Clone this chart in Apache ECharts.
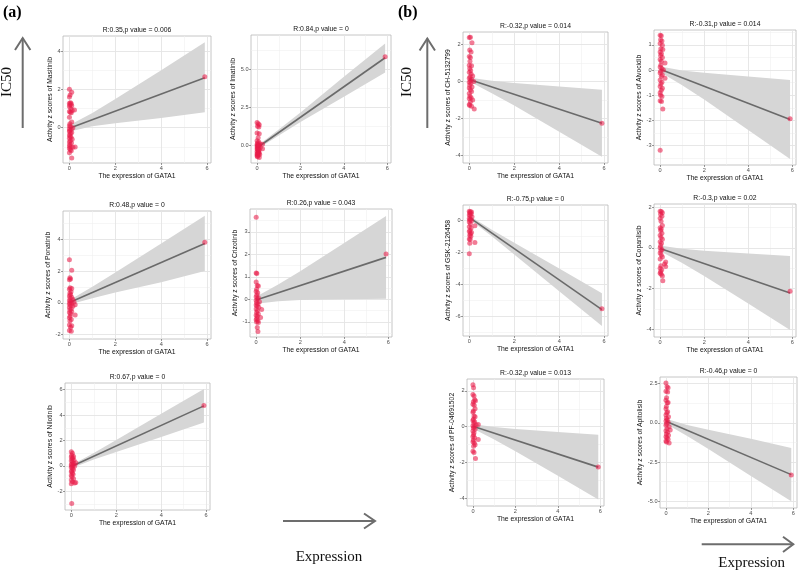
<!DOCTYPE html>
<html>
<head>
<meta charset="utf-8">
<script src="https://cdn.jsdelivr.net/npm/echarts@6/dist/echarts.min.js"></script>
<style>
html, body { margin: 0; padding: 0; background: #fff; }
#main { width: 800px; height: 574px; }
</style>
</head>
<body>
<div id="main"></div>
<script>
// shared x scale (GATA1 expression)
const xRange = [-0.28, 6.17];
const xTicks = [0, 2, 4, 6];
const lineX = [0, 5.9];
const bandX = [0, 0.2, 1, 2, 4, 5.9];

const drugs = ['Masitinib', 'Imatinib', 'Ponatinib', 'Crizotinib', 'Nilotinib',
  'CH-5132799', 'Alvocidib', 'GSK-2126458', 'Copanlisib', 'PF-04691502', 'Apitolisib'];
const stats = ['R:0.35,p value = 0.006', 'R:0.84,p value = 0', 'R:0.48,p value = 0',
  'R:0.26,p value = 0.043', 'R:0.67,p value = 0', 'R:-0.32,p value = 0.014',
  'R:-0.31,p value = 0.014', 'R:-0.75,p value = 0', 'R:-0.3,p value = 0.02',
  'R:-0.32,p value = 0.013', 'R:-0.46,p value = 0'];

const masitinibX = [0,0.1,0.03,0,0.05,0,0.08,0.02,0.1,0, 0.06,0.22,0.12,0,0.04,0.08,0,0.1,0.02,0, 0.05,0.15,0,0.08,0.02,0,0.1,0.05,0,0.03, 0.07,0,0.12,0.04,0,0.09,0.02,0,0.06,0.25, 0.15,0,0.04,0.08,0,0.1,5.9];
const masitinibY = [2.0,1.85,1.7,1.6,1.3,1.28,1.25,1.2,1.15,1.1, 1.0,0.92,0.9,0.85,0.8,0.78,0.55,0.3,0.2,0.1, 0.05,0,-0.05,-0.1,-0.15,-0.2,-0.25,-0.3,-0.38,-0.45, -0.5,-0.55,-0.6,-0.68,-0.75,-0.8,-0.88,-0.95,-1.0,-1.0, -1.02,-1.08,-1.15,-1.2,-1.3,-1.58,2.65];
const masitinibLine = [-0.03, 2.6];
const masitinibHi = [0.2, 0.26, 0.77, 1.5, 3.0, 4.45];
const masitinibLo = [-0.26, -0.14, 0.07, 0.23, 0.5, 0.8];

const imatinibX = [0,0.05,0.1,0.02,0.08,0,0.1,0.05,0,0.08, 0.02,0.12,0,0.05,0.1,0.25,0.03,0,0.07,0.15, 0.02,0.25,0,0.1,0.05,0,0.08,0.03,0,0.12, 0.05,0,0.1,0.02,0.04,0.06,0.01,0.09,0.03,5.9];
const imatinibY = [1.5,1.42,1.35,1.25,1.2,0.8,0.75,0.5,0.3,0.22, 0.15,0.1,0.05,0.02,-0.02,0.07,-0.05,-0.1,-0.12,-0.15, -0.2,-0.22,-0.25,-0.3,-0.35,-0.4,-0.45,-0.5,-0.55,-0.6, -0.65,-0.7,-0.8,-0.75,-0.28,-0.42,-0.62,-0.52,0.0,5.8];
const imatinibLine = [-0.16, 5.74];
const imatinibHi = [-0.03, 0.16, 1.03, 2.15, 4.5, 6.68];
const imatinibLo = [-0.29, -0.08, 0.65, 1.53, 3.18, 4.78];

const ponatinibX = [0,0.1,0.02,0.05,0,0.03,0.1,0,0.07,0.02, 0.05,0,0.1,0.03,0.15,0,0.06,0.2,0.02,0.1, 0,0.25,0.05,0.15,0,0.08,0.02,0.1,0,0.05, 0.25,0.03,0,0.08,0.02,0,0.1,0.05,0,0.08, 5.9];
const ponatinibY = [2.72,2.05,1.58,1.5,1.45,0.95,0.9,0.85,0.7,0.6, 0.5,0.42,0.35,0.28,0.2,0.15,0.1,0.05,0,-0.05, -0.1,-0.12,-0.18,-0.22,-0.3,-0.38,-0.45,-0.55,-0.62,-0.7, -0.78,-0.85,-0.95,-1.05,-1.15,-1.4,-1.45,-1.55,-1.75,-1.8, 3.82];
const ponatinibLine = [0.02, 3.75];
const ponatinibHi = [0.22, 0.33, 1.01, 1.91, 3.75, 5.5];
const ponatinibLo = [-0.18, -0.03, 0.29, 0.65, 1.29, 2.0];

const crizotinibX = [0,0,0.03,0,0.05,0.1,0.02,0,0.07,0.03, 0,0.1,0.05,0,0.15,0.02,0.08,0,0.04,0.12, 0.25,0,0.06,0.02,0.1,0,0.05,0.2,0.03,0, 0.08,0.02,0.1,0.05,0.08,5.9];
const crizotinibY = [3.65,1.18,1.15,0.78,0.62,0.6,0.45,0.35,0.3,0.2, 0.12,0.08,0.02,-0.05,-0.1,-0.15,-0.2,-0.25,-0.3,-0.35, -0.45,-0.42,-0.5,-0.58,-0.65,-0.7,-0.75,-0.8,-0.85,-0.9, -0.95,-1.0,-1.02,-1.25,-1.42,2.02];
const crizotinibLine = [-0.03, 1.87];
const crizotinibHi = [0.17, 0.23, 0.66, 1.25, 2.51, 3.71];
const crizotinibLo = [-0.23, -0.17, -0.08, -0.03, 0.01, 0.03];

const nilotinibX = [0,0.05,0.02,0.1,0,0.07,0.03,0.12,0,0.05, 0.2,0.1,0.02,0,0.08,0.15,0.03,0,0.06,0.1, 0.02,0,0.05,0.08,0,0.03,0.1,0,0.05,0.2, 0.15,0,0.02,5.9];
const nilotinibY = [1.12,1.0,0.85,0.75,0.7,0.62,0.55,0.45,0.4,0.32, 0.25,0.2,0.15,0.08,0.05,0,-0.05,-0.12,-0.2,-0.3, -0.38,-0.45,-0.55,-0.65,-0.75,-0.85,-1.0,-1.1,-1.25,-1.3, -1.35,-1.4,-2.95,4.75];
const nilotinibLine = [-0.05, 4.73];
const nilotinibHi = [0.1, 0.26, 1.02, 2.04, 4.1, 6.05];
const nilotinibLo = [-0.2, -0.04, 0.5, 1.1, 2.28, 3.42];

const chX = [0,0.05,0.12,0.02,0.08,0,0.05,0.03,0,0.1, 0.02,0.06,0,0.08,0.15,0.03,0,0.1,0.05,0.2, 0,0.07,0.02,0.12,0,0.05,0.1,0,0.03,0.08, 0,0.15,0.05,0,0.1,0.02,0.22,5.9];
const chY = [2.38,2.4,2.1,1.7,1.6,1.35,1.3,1.1,0.88,0.85, 0.7,0.6,0.5,0.4,0.3,0.25,0.18,0.12,0.05,0, -0.05,-0.1,-0.2,-0.3,-0.35,-0.45,-0.55,-0.65,-0.8,-0.88, -0.92,-1.0,-1.1,-1.25,-1.35,-1.3,-1.5,-2.27];
const chLine = [0.1, -2.26];
const chHi = [0.25, 0.17, 0.04, -0.09, -0.27, -0.45];
const chLo = [-0.05, -0.13, -0.64, -1.31, -2.73, -4.08];

const alvocidibX = [0,0.05,0.02,0.08,0,0.1,0.03,0.12,0,0.06, 0.02,0.1,0,0.05,0.22,0.03,0,0.08,0.15,0.02, 0,0.1,0.05,0.22,0,0.08,0.03,0,0.1,0.05, 0,0.02,0.08,0,0.06,0.12,0,5.9];
const alvocidibY = [1.38,1.36,1.2,1.15,1.05,0.98,0.85,0.82,0.72,0.65, 0.58,0.5,0.42,0.35,0.28,0.2,0.12,0.05,0,-0.05, -0.12,-0.2,-0.25,-0.33,-0.4,-0.48,-0.55,-0.65,-0.72,-0.8, -0.9,-1.0,-1.05,-1.22,-1.25,-1.55,-3.18,-1.93];
const alvocidibLine = [0.03, -1.96];
const alvocidibHi = [0.18, 0.11, -0.02, -0.11, -0.26, -0.4];
const alvocidibLo = [-0.12, -0.19, -0.6, -1.17, -2.38, -3.53];

const gskX = [0,0.05,0.1,0.02,0.08,0,0.04,0.12,0,0.06, 0.02,0.1,0,0.25,0.05,0,0.08,0.03,0,0.1, 0.05,0.02,0.07,0,0.04,0.25,0.02,0,5.9];
const gskY = [0.55,0.52,0.5,0.45,0.4,0.32,0.28,0.2,0.1,0.05, 0,-0.05,-0.12,-0.35,-0.25,-0.42,-0.5,-0.65,-0.72,-0.78, -0.85,-0.95,-1.02,-1.18,-1.22,-1.4,-1.45,-2.1,-5.55];
const gskLine = [0.17, -5.6];
const gskHi = [0.29, 0.09, -0.61, -1.42, -3.03, -4.57];
const gskLo = [0.05, -0.15, -1.01, -2.16, -4.45, -6.63];

const copanlisibX = [0,0.05,0.1,0.02,0.08,0,0.04,0.1,0,0.05, 0.02,0.08,0,0.04,0.1,0,0.06,0.02,0,0.08, 0.03,0,0.05,0.1,0,0.25,0.2,0.03,0.25,0, 0.07,0.02,0,0.05,0.1,0.12,5.9];
const copanlisibY = [1.8,1.78,1.72,1.65,1.55,1.45,1.3,1.1,0.98,0.92, 0.85,0.72,0.62,0.5,0.42,0.3,0.22,0.1,0,-0.08, -0.15,-0.25,-0.35,-0.45,-0.55,-0.7,-0.8,-0.88,-0.92,-1.0, -1.08,-1.18,-1.25,-1.3,-1.38,-1.62,-2.13];
const copanlisibLine = [-0.03, -2.22];
const copanlisibHi = [0.15, 0.08, -0.05, -0.15, -0.28, -0.4];
const copanlisibLo = [-0.21, -0.28, -0.75, -1.39, -2.74, -4.04];

const pfX = [0,0.03,0,0.05,0.08,0.12,0.02,0,0.06,0.1, 0.02,0,0.05,0.1,0.02,0,0.08,0.04,0.25,0.15, 0,0.06,0.02,0.1,0,0.05,0.03,0,0.08,0.25, 0.02,0,0.06,0.1,0.03,0,0.05,0.12,5.9];
const pfY = [2.35,2.18,1.8,1.72,1.5,1.45,1.4,1.25,1.2,1.0, 0.88,0.8,0.6,0.55,0.42,0.35,0.28,0.2,0.12,0.1, 0.05,0,-0.08,-0.15,-0.25,-0.35,-0.45,-0.55,-0.62,-0.72, -0.75,-0.85,-0.92,-1.02,-1.1,-1.38,-1.45,-1.78,-2.27];
const pfLine = [0.02, -2.27];
const pfHi = [0.19, 0.11, -0.02, -0.14, -0.3, -0.45];
const pfLo = [-0.15, -0.23, -0.72, -1.38, -2.76, -4.09];

const apitolisibX = [0,0.05,0.1,0,0.08,0.03,0,0.1,0.06,0.02, 0,0.08,0.04,0,0.12,0.02,0.06,0,0.1,0.03, 0,0.15,0.05,0.2,0,0.08,0.02,0.12,0,0.05, 0.1,0,0.03,0.15,5.9];
const apitolisibY = [2.55,2.3,2.25,2.02,1.98,1.6,1.45,1.3,1.28,1.05, 0.9,0.72,0.65,0.5,0.4,0.3,0.2,0.12,0.05,-0.05, -0.15,-0.25,-0.35,-0.45,-0.5,-0.6,-0.7,-0.78,-0.88,-0.95, -1.05,-1.15,-1.22,-1.28,-3.33];
const apitolisibLine = [0.1, -3.3];
const apitolisibHi = [0.3, 0.18, -0.13, -0.44, -1.01, -1.6];
const apitolisibLo = [-0.1, -0.22, -0.83, -1.66, -3.39, -5.0];

// y tick labels per panel
const yTicks = [[0,2,4], [0,2.5,5], [-2,0,2,4], [-1,0,1,2,3], [-2,0,2,4,6],
  [-4,-2,0,2], [-3,-2,-1,0,1], [-6,-4,-2,0], [-4,-2,0,2], [-4,-2,0,2], [-5,-2.5,0,2.5]];
const yDecimals = [0, 1, 0, 0, 0, 0, 0, 0, 0, 0, 1];
const yRanges = [[-1.84,4.78], [-1.16,7.23], [-2.29,5.8], [-1.67,4.02], [-3.47,6.53],
  [-4.42,2.68], [-3.77,1.59], [-7.25,0.94], [-4.38,2.15], [-4.45,2.67], [-5.43,2.93]];

const pointsX = [masitinibX, imatinibX, ponatinibX, crizotinibX, nilotinibX, chX, alvocidibX, gskX, copanlisibX, pfX, apitolisibX];
const pointsY = [masitinibY, imatinibY, ponatinibY, crizotinibY, nilotinibY, chY, alvocidibY, gskY, copanlisibY, pfY, apitolisibY];
const fitLines = [masitinibLine, imatinibLine, ponatinibLine, crizotinibLine, nilotinibLine, chLine, alvocidibLine, gskLine, copanlisibLine, pfLine, apitolisibLine];
const bandHi = [masitinibHi, imatinibHi, ponatinibHi, crizotinibHi, nilotinibHi, chHi, alvocidibHi, gskHi, copanlisibHi, pfHi, apitolisibHi];
const bandLo = [masitinibLo, imatinibLo, ponatinibLo, crizotinibLo, nilotinibLo, chLo, alvocidibLo, gskLo, copanlisibLo, pfLo, apitolisibLo];

// panel boxes: left, top, right, bottom, y-name gap
const boxes = [
  [63, 36, 211, 163, 7], [251, 35, 391, 163, 10], [63, 211, 211, 339, 9],
  [250, 209, 392, 337, 9], [65, 383, 210, 510, 9],
  [463, 32, 608, 163, 9], [654, 30, 796, 165, 9], [463, 205, 608, 336, 9],
  [654, 204, 796, 337, 9], [467, 379, 604, 506, 9], [660, 377, 797, 508, 14]
];

const FONT = '"Liberation Sans", Arial, sans-serif';
const SERIF = '"Liberation Serif", "Times New Roman", serif';
const MAJOR = { color: '#e4e4e4', width: 0.9, type: 'solid' };
const MINOR = { color: '#f0f0f0', width: 0.6, type: 'solid' };

function minorsOf(ticks, range) {
  const step = ticks[1] - ticks[0];
  const out = [];
  for (let v = ticks[0] - step / 2; v <= range[1]; v += step) {
    if (v >= range[0]) out.push(v);
  }
  return out;
}

const grids = [], xAxes = [], yAxes = [], series = [], graphics = [];

drugs.forEach((drug, i) => {
  const [l, t, r, b, gap] = boxes[i];
  const yr = yRanges[i];
  const dec = yDecimals[i];
  grids.push({
    left: l, top: t, width: r - l, height: b - t,
    show: true, borderColor: '#b8b8b8', borderWidth: 0.8,
    containLabel: false, outerBoundsMode: 'none'
  });
  xAxes.push({
    type: 'value', gridIndex: i, min: xRange[0], max: xRange[1],
    name: 'The expression of GATA1', nameLocation: 'middle', nameGap: 8,
    nameTextStyle: { fontSize: 6.8, color: '#111', fontFamily: FONT },
    axisLine: { show: false, onZero: false },
    axisTick: { show: true, length: 2, customValues: xTicks, lineStyle: { color: '#555', width: 0.6 } },
    axisLabel: { customValues: xTicks, fontSize: 5.6, color: '#4d4d4d', margin: 2.5, fontFamily: FONT },
    splitLine: { show: false }
  });
  yAxes.push({
    type: 'value', gridIndex: i, min: yr[0], max: yr[1],
    name: 'Activity z scores of ' + drug, nameLocation: 'middle', nameGap: gap,
    nameTextStyle: { fontSize: 6.8, color: '#111', fontFamily: FONT },
    axisLine: { show: false, onZero: false },
    axisTick: { show: true, length: 2, customValues: yTicks[i], lineStyle: { color: '#555', width: 0.6 } },
    axisLabel: { customValues: yTicks[i], fontSize: 5.6, color: '#4d4d4d', margin: 2.5, fontFamily: FONT,
      formatter: v => Number(v).toFixed(dec) },
    splitLine: { show: false }
  });

  // panel grid lines (major + minor) as mark lines under everything
  const gridLines = []
    .concat(minorsOf(xTicks, xRange).map(v => ({ xAxis: v, lineStyle: MINOR })))
    .concat(minorsOf(yTicks[i], yr).map(v => ({ yAxis: v, lineStyle: MINOR })))
    .concat(xTicks.map(v => ({ xAxis: v, lineStyle: MAJOR })))
    .concat(yTicks[i].map(v => ({ yAxis: v, lineStyle: MAJOR })));
  series.push({
    type: 'line', xAxisIndex: i, yAxisIndex: i, z: 1, showSymbol: false, silent: true,
    data: lineX.map((x, k) => [x, fitLines[i][k]]),
    lineStyle: { opacity: 0 },
    markLine: { z: 1, silent: true, symbol: ['none', 'none'], label: { show: false }, animation: false, data: gridLines }
  });

  const hi = bandHi[i], lo = bandLo[i];
  series.push({
    type: 'custom', xAxisIndex: i, yAxisIndex: i, z: 2, clip: true, silent: true,
    data: [[0, 0]],
    renderItem: function (params, api) {
      const top = bandX.map((x, k) => api.coord([x, hi[k]]));
      const bot = bandX.map((x, k) => api.coord([x, lo[k]])).reverse();
      return { type: 'polygon', shape: { points: top.concat(bot) }, style: { fill: '#d6d6d6' } };
    }
  });
  series.push({
    type: 'line', xAxisIndex: i, yAxisIndex: i, z: 3, showSymbol: false, silent: true,
    data: lineX.map((x, k) => [x, fitLines[i][k]]),
    lineStyle: { color: '#6a6a6a', width: 1.6 }
  });
  series.push({
    type: 'scatter', xAxisIndex: i, yAxisIndex: i, z: 4, symbolSize: 5, silent: true,
    data: pointsX[i].map((x, k) => [x, pointsY[i][k]]),
    itemStyle: { color: 'rgba(232, 28, 72, 0.72)' }
  });

  graphics.push({
    type: 'text', x: (l + r) / 2, y: t - 6,
    style: { text: stats[i], font: '6.8px ' + FONT, fill: '#111', align: 'center', verticalAlign: 'middle' }
  });
});

// panel letters, IC50 / Expression arrows
const arrowColor = '#6d6d6d';
graphics.push(
  { type: 'text', x: 3, y: 13, style: { text: '(a)', font: 'bold 16px ' + SERIF, fill: '#000', verticalAlign: 'middle' } },
  { type: 'text', x: 398, y: 13, style: { text: '(b)', font: 'bold 16px ' + SERIF, fill: '#000', verticalAlign: 'middle' } },
  { type: 'text', x: 7, y: 82, rotation: Math.PI / 2,
    style: { text: 'IC50', font: '15px ' + SERIF, fill: '#111', align: 'center', verticalAlign: 'middle' } },
  { type: 'text', x: 407, y: 82, rotation: Math.PI / 2,
    style: { text: 'IC50', font: '15px ' + SERIF, fill: '#111', align: 'center', verticalAlign: 'middle' } },
  { type: 'line', shape: { x1: 22.7, y1: 128, x2: 22.7, y2: 38 }, style: { stroke: arrowColor, lineWidth: 2 } },
  { type: 'polyline', shape: { points: [[15, 50], [22.7, 38], [30.4, 50]] }, style: { stroke: arrowColor, lineWidth: 2, fill: null } },
  { type: 'line', shape: { x1: 427.3, y1: 128, x2: 427.3, y2: 38.5 }, style: { stroke: arrowColor, lineWidth: 2 } },
  { type: 'polyline', shape: { points: [[419.6, 50.5], [427.3, 38.5], [435, 50.5]] }, style: { stroke: arrowColor, lineWidth: 2, fill: null } },
  { type: 'line', shape: { x1: 283, y1: 521, x2: 375, y2: 521 }, style: { stroke: arrowColor, lineWidth: 2 } },
  { type: 'polyline', shape: { points: [[364, 513.5], [375, 521], [364, 528.5]] }, style: { stroke: arrowColor, lineWidth: 2, fill: null } },
  { type: 'text', x: 329, y: 557, style: { text: 'Expression', font: '15px ' + SERIF, fill: '#111', align: 'center', verticalAlign: 'middle' } },
  { type: 'line', shape: { x1: 701.7, y1: 544.3, x2: 793.3, y2: 544.3 }, style: { stroke: arrowColor, lineWidth: 2 } },
  { type: 'polyline', shape: { points: [[783, 536.7], [793.3, 544.3], [783, 552]] }, style: { stroke: arrowColor, lineWidth: 2, fill: null } },
  { type: 'text', x: 751.7, y: 562.7, style: { text: 'Expression', font: '15px ' + SERIF, fill: '#111', align: 'center', verticalAlign: 'middle' } }
);

const myChart = echarts.init(document.getElementById('main'), null, { renderer: 'canvas' });
myChart.setOption({
  animation: false,
  backgroundColor: '#fff',
  grid: grids,
  xAxis: xAxes,
  yAxis: yAxes,
  series: series,
  graphic: graphics
});
</script>
</body>
</html>
